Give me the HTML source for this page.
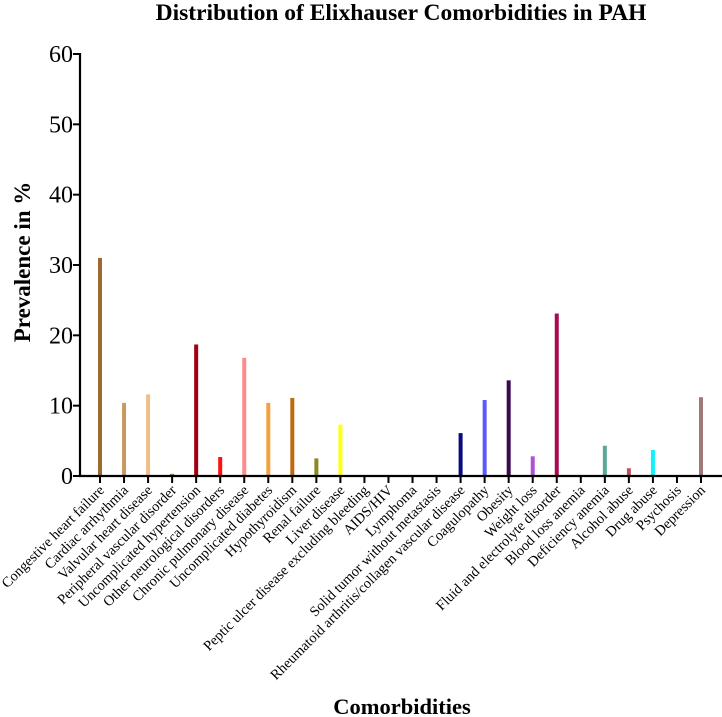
<!DOCTYPE html>
<html><head><meta charset="utf-8">
<style>
html,body{margin:0;padding:0;background:#fff;}
svg{display:block;font-family:"Liberation Serif",serif;}
</style></head>
<body>
<svg id="chart" width="722" height="717" viewBox="0 0 722 717">
<text x="401" y="20" text-anchor="middle" font-size="23.5" font-weight="bold">Distribution of Elixhauser Comorbidities in PAH</text>
<text transform="translate(30,262) rotate(-90)" text-anchor="middle" font-size="23" font-weight="bold">Prevalence in %</text>
<text x="402" y="714" text-anchor="middle" font-size="22.5" font-weight="bold">Comorbidities</text>
<g id="plot"></g>
</svg>
<script>
const categories = ["Congestive heart failure","Cardiac arrhythmia","Valvular heart disease","Peripheral vascular disorder","Uncomplicated hypertension","Other neurological disorders","Chronic pulmonary disease","Uncomplicated diabetes","Hypothyroidism","Renal failure","Liver disease","Peptic ulcer disease excluding bleeding","AIDS/HIV","Lymphoma","Solid tumor without metastasis","Rheumatoid arthritis/collagen vascular disease","Coagulopathy","Obesity","Weight loss","Fluid and electrolyte disorder","Blood loss anemia","Deficiency anemia","Alcohol abuse","Drug abuse","Psychosis","Depression"];
const values = [31.0,10.4,11.6,0.3,18.7,2.7,16.8,10.4,11.1,2.5,7.3,0,0,0,0,6.1,10.8,13.6,2.8,23.1,0,4.3,1.1,3.7,0,11.2];
const colors = ["#9a6a2e","#c89a5e","#f0be88","#8a7a50","#a00010","#ff1010","#ff8a8a","#f5a040","#c06a10","#8a8a20","#ffff10","#000","#000","#000","#000","#0a0a80","#5a5aff","#3a0a50","#b050d8","#a80a50","#000","#5aa898","#c05060","#10f0ff","#000","#a07878"];
const yTicks = [0,10,20,30,40,50,60];

const NS="http://www.w3.org/2000/svg";
const g=document.getElementById('plot');
const x0=80, xEnd=722, y0=476, yTop=54, yMax=60;
const firstX=100, step=24.04;
const xPos=i=>firstX+i*step;
const yPos=v=>y0-(v/yMax)*(y0-yTop);
function mk(tag,attrs){const e=document.createElementNS(NS,tag);for(const k in attrs)e.setAttribute(k,attrs[k]);g.appendChild(e);return e;}

values.forEach((v,i)=>{
  if(v<=0) return;
  const b=mk('rect',{x:xPos(i)-2,y:yPos(v),width:4,height:y0-yPos(v),fill:colors[i]});
  
  
});

const ya=mk('line',{x1:x0,y1:yTop-1,x2:x0,y2:y0+1,stroke:'#000','stroke-width':2.2});


const xa=mk('line',{x1:x0-1,y1:y0,x2:xEnd,y2:y0,stroke:'#000','stroke-width':2.2});



yTicks.forEach(t=>{
  const tk=mk('line',{x1:x0-7,y1:yPos(t),x2:x0,y2:yPos(t),stroke:'#000','stroke-width':2});
  
  
  const lb=mk('text',{x:x0-7,y:yPos(t)+8,'text-anchor':'end','font-size':24});
  lb.textContent=t;
  
  
});

categories.forEach((c,i)=>{
  const x=xPos(i);
  const tk=mk('line',{x1:x,y1:y0,x2:x,y2:y0+7,stroke:'#000','stroke-width':2});
  
  
  const lb=mk('text',{transform:`translate(${x+5},${y0+15}) rotate(-45)`,'text-anchor':'end','font-size':14.4});
  lb.textContent=c;
  
  
});
</script>
</body></html>
